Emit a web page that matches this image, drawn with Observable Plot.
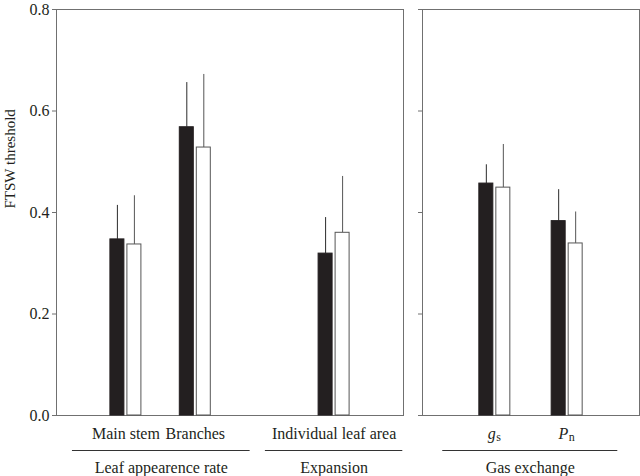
<!DOCTYPE html>
<html>
<head>
<meta charset="utf-8">
<script src="https://cdn.jsdelivr.net/npm/d3@7"></script>
<script src="https://cdn.jsdelivr.net/npm/@observablehq/plot@0.6"></script>
<style>
  html, body { margin: 0; padding: 0; background: #fff; }
  #chart { position: relative; width: 640px; height: 476px; display: flex; }
  #chart svg { overflow: visible; background: transparent; }
</style>
</head>
<body>
<div id="chart"></div>
<script>
// ---- Data ----
const yTicks = [0, 0.2, 0.4, 0.6, 0.8];
const yLabel = "FTSW threshold";

// Left panel
const leftCats = ["Main stem", "Branches", "Individual leaf area"];
const leftPos = [1, 2, 4];
const leftDark = [0.347, 0.568, 0.319];
const leftDarkErr = [0.067, 0.088, 0.071];
const leftLight = [0.337, 0.528, 0.360];
const leftLightErr = [0.096, 0.144, 0.111];
const leftGroups = ["Leaf appearence rate", "Expansion"];
const leftGroupStart = [0.23, 3.01];
const leftGroupEnd = [2.79, 4.99];

// Right panel
const rightCats = ["g", "P"];
const rightSubs = ["s", "n"];
const rightPos = [1, 2];
const rightDark = [0.457, 0.383];
const rightDarkErr = [0.037, 0.062];
const rightLight = [0.449, 0.339];
const rightLightErr = [0.085, 0.062];
const rightGroups = ["Gas exchange"];
const rightGroupStart = [0.28];
const rightGroupEnd = [2.70];

const INK = "#231f20";
const AXIS = "#707070";
const FONT = "'Liberation Serif', 'Times New Roman', serif";

function panel({cats, subs, pos, dark, darkErr, light, lightErr,
                groups, gStart, gEnd, xMax, width, marginLeft, marginRight, yText}) {
  const k = (width - marginLeft - marginRight) / xMax; // px per x unit
  const rows = cats.flatMap((c, i) => [
    {cat: c, pos: pos[i], kind: "dark", value: dark[i], err: darkErr[i]},
    {cat: c, pos: pos[i], kind: "light", value: light[i], err: lightErr[i]}
  ]);
  const catRows = cats.map((c, i) => ({cat: c, sub: subs ? subs[i] : null, pos: pos[i]}));
  const grpRows = groups.map((g, i) => ({name: g, start: gStart[i], end: gEnd[i]}));
  const off = (d, a, b) => d.pos + (d.kind === "dark" ? a : b) / k;

  const marks = [
    Plot.frame({stroke: AXIS}),
    Plot.axisY({
      ticks: yTicks,
      tickSize: 4,
      tickPadding: 3,
      stroke: AXIS,
      fill: INK,
      fontSize: 16,
      tickFormat: yText ? d3.format(".1f") : () => "",
      label: null
    }),
    Plot.ruleX(rows, {
      x: d => off(d, -8.5, 8.5),
      y1: "value",
      y2: d => d.value + d.err,
      stroke: d => d.kind === "dark" ? "#2b2b2b" : "#555",
      strokeWidth: 1
    }),
    Plot.rectY(rows, {
      x1: d => off(d, -15.5, 1.5),
      x2: d => off(d, -1.5, 15.5),
      y1: 0,
      y2: "value",
      fill: d => d.kind === "dark" ? INK : "#fff",
      stroke: d => d.kind === "dark" ? INK : "#555",
      strokeWidth: 1
    }),
    Plot.ruleY(grpRows, {
      x1: "start", x2: "end", y: () => 0, dy: 35, stroke: "#333", strokeWidth: 1
    }),
    Plot.text(grpRows, {
      x: d => (d.start + d.end) / 2,
      text: "name",
      frameAnchor: "bottom",
      lineAnchor: "middle",
      dy: 52.5,
      fontSize: 16,
      fill: INK
    })
  ];
  if (subs) {
    marks.push(
      Plot.text(catRows, {
        x: "pos", text: "cat", frameAnchor: "bottom", lineAnchor: "middle",
        textAnchor: "end", dx: 1, dy: 18.5, fontSize: 16, fontStyle: "italic", fill: INK
      }),
      Plot.text(catRows, {
        x: "pos", text: "sub", frameAnchor: "bottom", lineAnchor: "middle",
        textAnchor: "start", dx: 1.5, dy: 22, fontSize: 12, fill: INK
      })
    );
  } else {
    marks.push(
      Plot.text(catRows, {
        x: "pos", text: "cat", frameAnchor: "bottom", lineAnchor: "middle",
        dy: 18.5, fontSize: 16, fill: INK
      })
    );
  }
  if (yText) {
    marks.push(Plot.text([yLabel], {
      text: d => d, frameAnchor: "left", rotate: -90, dx: -46, dy: -4,
      fontSize: 15, fill: INK
    }));
  }
  return Plot.plot({
    width, height: 476,
    marginLeft, marginRight, marginTop: 9, marginBottom: 61,
    style: {fontFamily: FONT, color: INK, background: "transparent"},
    x: {domain: [0, xMax], axis: null},
    y: {domain: [0, 0.8], axis: null},
    marks
  });
}

const chart = document.getElementById("chart");
chart.appendChild(panel({
  cats: leftCats, subs: null, pos: leftPos,
  dark: leftDark, darkErr: leftDarkErr, light: leftLight, lightErr: leftLightErr,
  groups: leftGroups, gStart: leftGroupStart, gEnd: leftGroupEnd,
  xMax: 5, width: 410, marginLeft: 56, marginRight: 7, yText: true
}));
chart.appendChild(panel({
  cats: rightCats, subs: rightSubs, pos: rightPos,
  dark: rightDark, darkErr: rightDarkErr, light: rightLight, lightErr: rightLightErr,
  groups: rightGroups, gStart: rightGroupStart, gEnd: rightGroupEnd,
  xMax: 3, width: 230, marginLeft: 12, marginRight: 1, yText: false
}));
</script>
</body>
</html>
